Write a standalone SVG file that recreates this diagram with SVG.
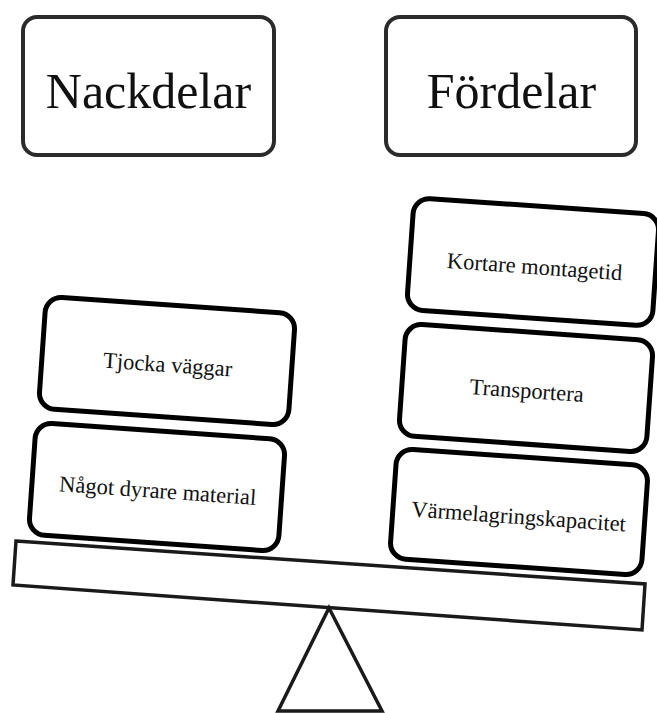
<svg xmlns="http://www.w3.org/2000/svg" width="657" height="713" viewBox="0 0 657 713">
<style>
.title{fill:#fff;stroke:#2b2b2b;stroke-width:4}
.box{fill:#fff;stroke:#000;stroke-width:5}
.ttxt{font-family:"Liberation Serif","Times New Roman",serif;font-size:50px;fill:#111;text-anchor:middle}
.btxt{font-family:"Liberation Serif","Times New Roman",serif;font-size:22.5px;fill:#111;text-anchor:middle}
.part{fill:#fff;stroke:#1a1a1a;stroke-width:3.5;stroke-linejoin:miter}
</style>
<rect width="657" height="713" fill="#fff"/>
<g id="seesaw">
  <polygon class="part" points="16,541 645,584 642,630 13,585"/>
  <polygon class="part" points="329,608 382,711 278,711"/>
</g>
<g id="nackdelar">
  <rect class="title" x="23" y="17" width="251" height="138" rx="14"/>
  <text class="ttxt" x="148.5" y="108">Nackdelar</text>
</g>
<g id="fordelar">
  <rect class="title" x="386" y="17" width="250" height="138" rx="14"/>
  <text class="ttxt" x="511.5" y="108">Fördelar</text>
</g>
<g id="tjocka" transform="translate(167,361) rotate(4)">
  <rect class="box" x="-125" y="-56" width="250" height="112" rx="16"/>
  <text class="btxt" x="1" y="11">Tjocka väggar</text>
</g>
<g id="nagot" transform="translate(157,487) rotate(4)">
  <rect class="box" x="-125" y="-56" width="250" height="112" rx="16"/>
  <text class="btxt" x="1" y="11">Något dyrare material</text>
</g>
<g id="kortare" transform="translate(533,262) rotate(4)">
  <rect class="box" x="-123" y="-56" width="246" height="112" rx="16"/>
  <text class="btxt" x="2" y="12">Kortare montagetid</text>
</g>
<g id="transportera" transform="translate(526,388) rotate(4)">
  <rect class="box" x="-124" y="-56" width="248" height="112" rx="16"/>
  <text class="btxt" x="1" y="10">Transportera</text>
</g>
<g id="varme" transform="translate(519,512) rotate(4)">
  <rect class="box" x="-126" y="-55" width="252" height="110" rx="16"/>
  <text class="btxt" x="0" y="12">Värmelagringskapacitet</text>
</g>
<g id="connectors"/>
</svg>
